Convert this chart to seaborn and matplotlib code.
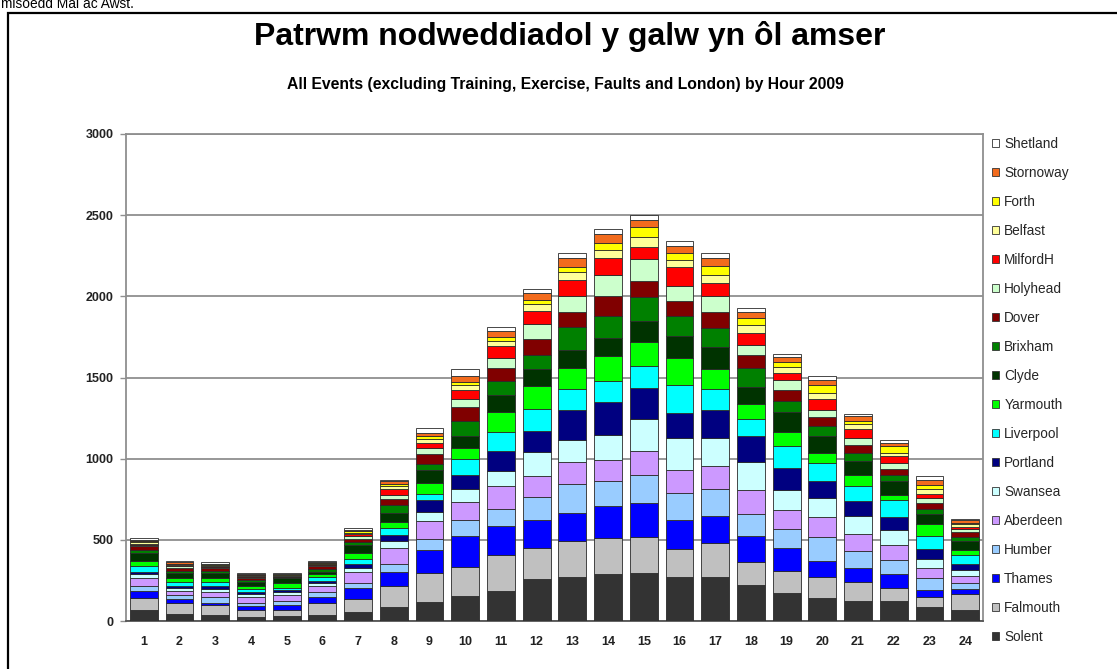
import matplotlib
matplotlib.use("Agg")
import matplotlib.pyplot as plt
import seaborn as sns
import numpy as np
from matplotlib.patches import Patch, Rectangle

# ---------------- data ----------------
hours = ["1", "2", "3", "4", "5", "6", "7", "8", "9", "10", "11", "12",
         "13", "14", "15", "16", "17", "18", "19", "20", "21", "22", "23", "24"]

# stacking order: bottom -> top
stations = ["Solent", "Falmouth", "Thames", "Humber", "Aberdeen", "Swansea",
            "Portland", "Liverpool", "Yarmouth", "Clyde", "Brixham", "Dover",
            "Holyhead", "MilfordH", "Belfast", "Forth", "Stornoway", "Shetland"]

solent    = [68, 41, 37, 23, 31, 37, 57, 84, 115, 154, 184, 256, 269, 287, 293, 269, 269, 221, 174, 140, 125, 125, 88, 68]
falmouth  = [72, 68, 61, 45, 37, 76, 78, 131, 178, 180, 222, 195, 225, 227, 225, 174, 209, 143, 133, 132, 117, 76, 62, 96]
thames    = [44, 24, 11, 24, 30, 37, 70, 88, 143, 188, 178, 174, 172, 193, 209, 182, 169, 158, 140, 99, 82, 86, 41, 31]
humber    = [31, 27, 37, 21, 27, 30, 27, 51, 72, 99, 109, 139, 180, 153, 170, 166, 169, 140, 117, 147, 108, 88, 71, 40]
aberdeen  = [51, 24, 34, 37, 35, 35, 71, 97, 109, 112, 137, 127, 133, 130, 150, 141, 137, 143, 118, 123, 107, 96, 62, 42]
swansea   = [21, 17, 17, 14, 16, 17, 21, 43, 55, 83, 94, 150, 133, 157, 199, 197, 174, 174, 123, 119, 106, 88, 57, 36]
portland  = [16, 14, 18, 12, 15, 14, 30, 35, 72, 81, 123, 127, 185, 201, 190, 154, 174, 158, 140, 100, 94, 82, 62, 41]
liverpool = [35, 27, 27, 19, 14, 26, 31, 41, 41, 103, 117, 135, 133, 133, 133, 168, 129, 109, 131, 115, 91, 103, 79, 52]
yarmouth  = [31, 20, 20, 20, 27, 15, 35, 41, 65, 65, 123, 143, 129, 150, 148, 167, 123, 88, 88, 60, 67, 35, 78, 30]
clyde     = [51, 31, 31, 27, 30, 16, 47, 57, 82, 74, 106, 107, 113, 110, 133, 140, 133, 110, 123, 102, 88, 81, 62, 56]
brixham   = [20, 16, 16, 10, 10, 15, 20, 45, 37, 92, 88, 88, 137, 136, 143, 119, 119, 115, 67, 62, 52, 42, 31, 26]
dover     = [21, 19, 15, 14, 5, 20, 21, 37, 62, 90, 78, 97, 96, 127, 103, 96, 100, 80, 70, 57, 45, 32, 34, 31]
holyhead  = [10, 10, 6, 6, 4, 6, 14, 24, 34, 48, 62, 92, 99, 129, 133, 92, 99, 62, 63, 45, 45, 39, 33, 15]
milfordh  = [6, 6, 8, 5, 2, 6, 13, 39, 33, 55, 71, 81, 96, 102, 76, 117, 78, 71, 42, 68, 53, 41, 25, 16]
belfast   = [9, 6, 6, 4, 2, 4, 10, 19, 25, 31, 35, 42, 47, 50, 63, 43, 49, 53, 38, 34, 35, 23, 31, 16]
forth     = [6, 4, 6, 2, 2, 4, 8, 10, 14, 16, 25, 26, 35, 46, 60, 45, 53, 39, 31, 48, 20, 39, 20, 8]
stornoway = [10, 7, 4, 4, 2, 7, 10, 18, 23, 37, 37, 41, 57, 52, 43, 40, 55, 37, 27, 35, 25, 22, 31, 17]
shetland  = [8, 10, 7, 6, 4, 6, 10, 11, 28, 45, 24, 25, 25, 31, 29, 30, 25, 25, 20, 22, 16, 19, 24, 10]

series_values = [solent, falmouth, thames, humber, aberdeen, swansea, portland,
                 liverpool, yarmouth, clyde, brixham, dover, holyhead, milfordh,
                 belfast, forth, stornoway, shetland]

colors = ["#333333", "#C0C0C0", "#0000FF", "#99CCFF", "#CC99FF", "#CCFFFF",
          "#000080", "#00FFFF", "#00FF00", "#003300", "#008000", "#800000",
          "#CCFFCC", "#FF0000", "#FFFF99", "#FFFF00", "#F26B1D", "#FFFFFF"]

yticks = [0, 500, 1000, 1500, 2000, 2500, 3000]

# ---------------- style ----------------
sns.set_style("white")
plt.rcParams["font.family"] = ["Liberation Sans", "DejaVu Sans"]

W, H = 1117, 669
fig = plt.figure(figsize=(W / 100, H / 100), dpi=100)
fig.patch.set_facecolor("white")

ax = fig.add_axes([126 / W, 1 - 621 / H, (983 - 126) / W, (621 - 134) / H])

bottom = np.zeros(len(hours))
for name, vals, col in zip(stations, series_values, colors):
    sns.barplot(x=hours, y=vals, order=hours, bottom=bottom.copy(), color=col,
                saturation=1, width=0.78, edgecolor="#2a2a2a", linewidth=0.6,
                errorbar=None, ax=ax, zorder=3)
    bottom += np.array(vals)

ax.set_xlim(-0.5, len(hours) - 0.5)
ax.set_ylim(yticks[0], yticks[-1])
ax.set_yticks(yticks)
ax.set_yticklabels([str(v) for v in yticks], fontsize=9, fontweight="bold", color="#222222")
ax.set_xticks(range(len(hours)))
ax.set_xticklabels(hours, fontsize=9, fontweight="bold", color="#222222")
ax.set_xticks(np.arange(-0.5, len(hours), 1.0), minor=True)
ax.set_xlabel("")
ax.set_ylabel("")

ax.yaxis.grid(True, color="#8f8f8f", linewidth=1.3, zorder=0)
ax.xaxis.grid(False)
ax.set_axisbelow(True)
ax.tick_params(axis="x", which="major", length=0, pad=11)
ax.tick_params(axis="x", which="minor", length=3, width=1, color="#8f8f8f", direction="out")
ax.tick_params(axis="y", which="major", length=4, width=1, color="#8f8f8f", pad=5, left=True)
for side in ["left", "right", "top"]:
    ax.spines[side].set_color("#8f8f8f")
    ax.spines[side].set_linewidth(1.3)
ax.spines["bottom"].set_color("#555555")
ax.spines["bottom"].set_linewidth(1.3)

# legend (top: Shetland ... bottom: Solent)
handles = [Patch(facecolor=c, edgecolor="#333333", linewidth=0.6) for c in colors][::-1]
labels = stations[::-1]
fig.legend(handles, labels, loc="upper left", bbox_to_anchor=(992 / W, 1 - 137 / H),
           frameon=False, fontsize=9.8, handlelength=0.55, handleheight=0.55,
           handletextpad=0.35, labelspacing=1.1, borderaxespad=0, borderpad=0)

# titles
fig.text(570 / W, 1 - 36 / H, "Patrwm nodweddiadol y galw yn ôl amser",
         ha="center", va="center", fontsize=23, fontweight="bold", color="black")
fig.text(565 / W, 1 - 85 / H,
         "All Events (excluding Training, Exercise, Faults and London) by Hour 2009",
         ha="center", va="center", fontsize=11.3, fontweight="bold", color="black")

# cut-off text above the frame (partly clipped at the top edge, as in the source)
fig.text(1 / W, 1 - 8 / H, "misoedd Mai ac Awst.", ha="left", va="baseline",
         fontsize=9.9, color="black")

# outer frame
fig.patches.append(Rectangle((8 / W, -0.05), 1.2, 1 - 13 / H + 0.05,
                             transform=fig.transFigure, fill=False,
                             edgecolor="black", linewidth=1.6, clip_on=False))

fig.savefig("out.png", dpi=100)
